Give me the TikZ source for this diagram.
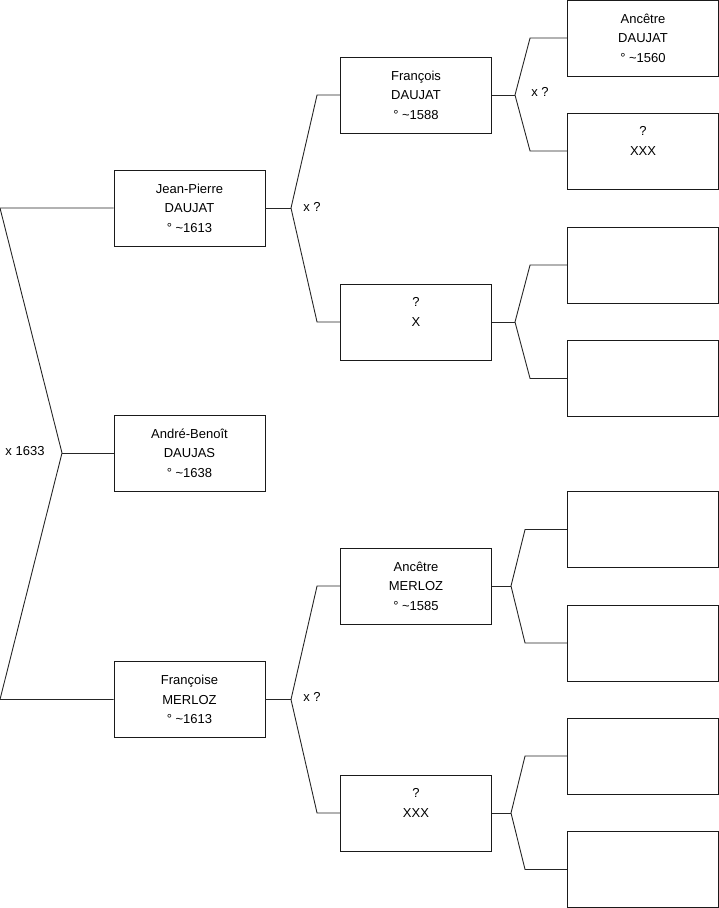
\documentclass[tikz,border=0pt]{standalone}
\usepackage{fontspec}
\setmainfont{Liberation Sans}
\usepackage{tikz}
\usetikzlibrary{positioning,calc}
\definecolor{TreeInk}{HTML}{1A1A1A}
\definecolor{TreeLine}{HTML}{262626}

\begin{document}
\begin{tikzpicture}[x=1pt,y=-1pt,
    personbox/.style={draw=TreeInk,line width=0.9pt,minimum width=151pt,
      minimum height=76pt,inner sep=0pt,align=center,
      font=\fontsize{13}{19.5}\selectfont},
    link/.style={draw=TreeLine,line width=0.9pt},
    union/.style={inner sep=0pt,font=\fontsize{13}{15}\selectfont}]
  \useasboundingbox (0,0) rectangle (719,908);
  % generation 1
  \node[personbox] (jp) at (189.5,208) {Jean-Pierre\\DAUJAT\\° \textasciitilde1613};
  \node[personbox] (ab) at (189.5,453) {André-Benoît\\DAUJAS\\° \textasciitilde1638};
  \node[personbox] (fm) at (189.5,699.5) {Françoise\\MERLOZ\\° \textasciitilde1613};
  % generation 2
  \node[personbox] (fr) at (416,95) {François\\DAUJAT\\° \textasciitilde1588};
  \node[personbox] (qx) at (416,322) {?\\X\\\vphantom{0}};
  \node[personbox] (am) at (416,586) {Ancêtre\\MERLOZ\\° \textasciitilde1585};
  \node[personbox] (qxxx) at (416,813) {?\\XXX\\\vphantom{0}};
  % generation 3
  \node[personbox] (ad) at (643,38) {Ancêtre\\DAUJAT\\° \textasciitilde1560};
  \node[personbox] (frwife) at (643,151) {?\\XXX\\\vphantom{0}};
  \node[personbox] (qxdad) at (643,265) {};
  \node[personbox] (qxmum) at (643,378.5) {};
  \node[personbox] (amdad) at (643,529.5) {};
  \node[personbox] (ammum) at (643,643) {};
  \node[personbox] (qxxxdad) at (643,756) {};
  \node[personbox] (qxxxmum) at (643,869.5) {};

  % forks
  \coordinate (rootfork) at (62,453);
  \coordinate (jpfar) at (0,208);
  \coordinate (fmfar) at (0,699.5);
  \coordinate (jpfork) at (291,208);
  \coordinate (fmfork) at (291,699.5);
  \coordinate (frfork) at (515,95);
  \coordinate (qxfork) at (515,322);
  \coordinate (amfork) at (511,586);
  \coordinate (qxxxfork) at (511,813);

  \draw[link] (jp.west) -- (jpfar) -- (rootfork) -- (fmfar) -- (fm.west);
  \draw[link] (rootfork) -- (ab.west);
  \node[union] (u0) at (25,451) {x 1633};

  \draw[link] (jp.east) -- (jpfork);
  \draw[link] (fr.west) -- ++(-23,0) -- (jpfork) -- ($(qx.west)+(-23,0)$) -- (qx.west);
  \node[union] (u1) at (312,207) {x ?};

  \draw[link] (fm.east) -- (fmfork);
  \draw[link] (am.west) -- ++(-23,0) -- (fmfork) -- ($(qxxx.west)+(-23,0)$) -- (qxxx.west);
  \node[union] (u2) at (312,697) {x ?};

  \draw[link] (fr.east) -- (frfork);
  \draw[link] (ad.west) -- ++(-37,0) -- (frfork) -- ($(frwife.west)+(-37,0)$) -- (frwife.west);
  \node[union] (u3) at (540,92) {x ?};

  \draw[link] (qx.east) -- (qxfork);
  \draw[link] (qxdad.west) -- ++(-37,0) -- (qxfork) -- ($(qxmum.west)+(-37,0)$) -- (qxmum.west);

  \draw[link] (am.east) -- (amfork);
  \draw[link] (amdad.west) -- ++(-42,0) -- (amfork) -- ($(ammum.west)+(-42,0)$) -- (ammum.west);

  \draw[link] (qxxx.east) -- (qxxxfork);
  \draw[link] (qxxxdad.west) -- ++(-42,0) -- (qxxxfork) -- ($(qxxxmum.west)+(-42,0)$) -- (qxxxmum.west);
\end{tikzpicture}
\end{document}
